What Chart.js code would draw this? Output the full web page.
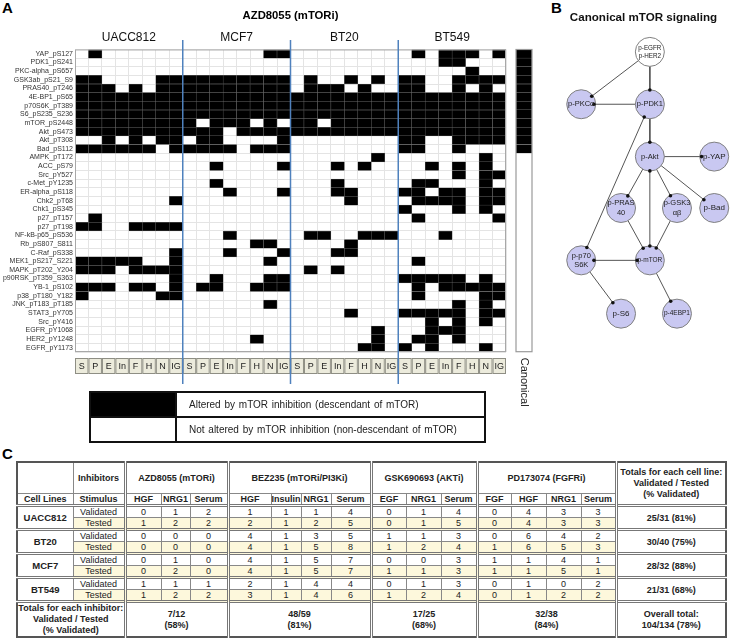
<!DOCTYPE html>
<html>
<head>
<meta charset="utf-8">
<script src="https://cdn.jsdelivr.net/npm/chart.js@4.4.1/dist/chart.umd.min.js"></script>
<style>
body { margin:0; width:745px; height:638px; position:relative; background:#fff; font-family: Arial, "Liberation Sans", sans-serif; overflow:hidden; }
.letter { position:absolute; font-weight:bold; font-size:15px; line-height:15px; color:#000; }
canvas { position:absolute; top:0; }
#legendBox { position:absolute; left:89px; top:391px; width:393px; border:2px solid #111; font-size:10px; color:#222; }
#legendBox .row { display:flex; height:23px; }
#legendBox .row + .row { border-top:2px solid #111; }
#legendBox .sw { width:84px; border-right:2px solid #111; }
#legendBox .txt { padding-left:12px; line-height:23px; word-spacing:1px; }
#tbl { position:absolute; left:16px; top:461px; border-collapse:collapse; table-layout:fixed; font-size:9px; color:#222; border:2px solid #555; }
#tbl td { border:1px solid #888; text-align:center; padding:0; height:10px; line-height:10px; white-space:nowrap; }
#tbl .b { font-weight:bold; }
#tbl td.gl { border-left:3px double #777; }
#tbl tr.gt td { border-top:3px double #777; }
#tbl tr.h1 td { height:30px; }
#tbl tr.tested td { background:#fdf8dc; }
#tbl tr.tot td { height:33px; line-height:11px; }
</style>
</head>
<body>
<div class="letter" style="left:2px;top:0px">A</div>
<div class="letter" style="left:551px;top:0px">B</div>
<div class="letter" style="left:2px;top:446px">C</div>

<canvas id="heat" width="545" height="392" style="left:0"></canvas>
<canvas id="canon" width="30" height="420" style="left:510px"></canvas>
<canvas id="net" width="203" height="352" style="left:542px"></canvas>

<div id="legendBox">
  <div class="row"><div class="sw" style="background:#000"></div><div class="txt">Altered by mTOR inhibition (descendant of mTOR)</div></div>
  <div class="row"><div class="sw" style="background:#fff"></div><div class="txt">Not altered by mTOR inhibition (non-descendant of mTOR)</div></div>
</div>

<table id="tbl"></table>

<script>
// ---------- Panel A : heatmap ----------
const cellLines = ['UACC812', 'MCF7', 'BT20', 'BT549'];
const conditions = ['S', 'P', 'E', 'In', 'F', 'H', 'N', 'IG'];
const rowNames = ['YAP_pS127','PDK1_pS241','PKC-alpha_pS657','GSK3ab_pS21_S9','PRAS40_pT246','4E-BP1_pS65',
  'p70S6K_pT389','S6_pS235_S236','mTOR_pS2448','Akt_pS473','Akt_pT308','Bad_pS112','AMPK_pT172','ACC_pS79',
  'Src_pY527','c-Met_pY1235','ER-alpha_pS118','Chk2_pT68','Chk1_pS345','p27_pT157','p27_pT198',
  'NF-kB-p65_pS536','Rb_pS807_S811','C-Raf_pS338','MEK1_pS217_S221','MAPK_pT202_Y204','p90RSK_pT359_S363',
  'YB-1_pS102','p38_pT180_Y182','JNK_pT183_pT185','STAT3_pY705','Src_pY416','EGFR_pY1068','HER2_pY1248','EGFR_pY1173'];

// 1 = altered by mTOR inhibition, one string per row, one char per condition
const uacc812 = ['01000000','00000000','00000000','11000011','11101011','11111111','11111111','11111111',
  '11111111','11111111','00101011','11111101','00000000','00000000','00000000','00000000','00000000',
  '00000001','00000000','01000000','11001111','00000000','00000000','00000001','11111001','11101111',
  '00000001','11101101','10000011','00000000','00000000','00000000','00000000','00000000','00000000'];
const mcf7 = ['00000011','00000000','00000000','11111111','11111111','11111111','11111111','11111111',
  '10111010','11101111','01100001','11110111','00000000','00100001','00000000','00100000','00010001',
  '00000000','00000000','00000000','00000000','00010000','00000110','00010001','00000010','00000000',
  '00100011','01100111','00000000','00000010','00000000','00000000','00000000','00000100','00000000'];
const bt20 = ['00000000','00000000','00000000','01001010','01110100','11111111','11111111','11111111',
  '11011111','11111111','00000000','00000000','00000010','00010100','00000000','00010000','00011000',
  '00001000','00000000','00000000','00000000','01100111','00001000','00011000','00000000','01010000',
  '00000000','00000000','00000000','00000000','00001000','00000000','00000010','00000010','00000110'];
const bt549 = ['01011101','00011000','00000100','11001111','11001010','11111111','11111111','11111111',
  '11111111','11111111','11001111','11001000','00000010','00101010','00001011','01100010','11011011',
  '01111011','10001010','01000001','00000000','00010000','00000000','00000000','01000000','00000000',
  '11111010','01011111','01000011','00001010','11111011','00101010','00111000','01101000','10100010'];
const canonical = [1,1,1,1,1,1,1,1,1,1,1,1,0,0,0,0,0,0,0,0,0,0,0,0,0,0,0,0,0,0,0,0,0,0,0];

const lineBits = [uacc812, mcf7, bt20, bt549];
const heatSets = cellLines.map((name, g) => ({
  label: name,
  data: lineBits[g].flatMap((bits, r) => [...bits].map((b, k) =>
    b === '1' ? { x: [g * 8 + k, g * 8 + k + 1], y: rowNames[r] } : null).filter(v => v)),
  backgroundColor: '#000',
  borderColor: '#6a6a6a',
  borderWidth: 0.5,
  borderSkipped: false,
  grouped: false,
  barPercentage: 1,
  categoryPercentage: 1
}));

const heatExtras = {
  id: 'heatExtras',
  afterDraw(chart) {
    const { ctx, chartArea: a, scales: { x } } = chart;
    ctx.save();
    ctx.strokeStyle = '#a8a8a8';
    ctx.lineWidth = 1;
    ctx.strokeRect(a.left + 0.5, a.top + 0.5, a.right - a.left - 1, a.bottom - a.top - 1);
    // condition boxes under the columns
    ctx.font = '9px Arial';
    ctx.textAlign = 'center';
    ctx.textBaseline = 'middle';
    for (let c = 0; c < 32; c++) {
      const l = x.getPixelForValue(c), r = x.getPixelForValue(c + 1);
      ctx.fillStyle = '#ecebdc';
      ctx.fillRect(l, 358, r - l, 16);
      ctx.strokeStyle = '#8e8e84';
      ctx.strokeRect(l + 0.5, 358.5, r - l - 1, 15);
      ctx.fillStyle = '#222';
      ctx.fillText(conditions[c % 8], (l + r) / 2, 366.5);
    }
    // blue separators between cell lines
    ctx.strokeStyle = '#4f81bd';
    ctx.lineWidth = 1.5;
    for (let g = 1; g < 4; g++) {
      const px = x.getPixelForValue(g * 8);
      ctx.beginPath();
      ctx.moveTo(px, 40);
      ctx.lineTo(px, 384);
      ctx.stroke();
    }
    ctx.restore();
  }
};

new Chart(document.getElementById('heat'), {
  type: 'bar',
  data: { labels: rowNames, datasets: heatSets },
  options: {
    indexAxis: 'y',
    responsive: false,
    animation: false,
    layout: { padding: { left: 0, right: 39, top: 0, bottom: 0 } },
    plugins: {
      legend: { display: false },
      tooltip: { enabled: false },
      title: {
        display: true, fullSize: false, text: 'AZD8055 (mTORi)', color: '#000',
        font: { family: 'Arial', size: 11.3, weight: 'bold' },
        padding: { top: 9.2, bottom: 0 }
      }
    },
    scales: {
      x: {
        type: 'linear', min: 0, max: 32,
        ticks: { display: false, stepSize: 1 },
        grid: { color: '#e4e4e4', drawTicks: false },
        border: { display: false },
        afterFit: s => { s.height = 40; }
      },
      xTop: {
        type: 'category', labels: cellLines, position: 'top', offset: true,
        ticks: { font: { family: 'Arial', size: 12 }, color: '#111', padding: 4.3 },
        grid: { display: false, drawTicks: false },
        border: { display: false },
        afterFit: s => { s.height = 26.7; }
      },
      y: {
        type: 'category',
        ticks: { font: { family: 'Arial', size: 7 }, color: '#333', padding: 2, autoSkip: false },
        grid: { color: '#e4e4e4', drawTicks: false },
        border: { display: false },
        afterFit: s => { s.width = 75; }
      }
    }
  },
  plugins: [heatExtras]
});

// canonical column
const canonExtras = {
  id: 'canonExtras',
  afterDraw(chart) {
    const { ctx, chartArea: a } = chart;
    ctx.save();
    ctx.strokeStyle = '#9a9a9a';
    ctx.lineWidth = 1.2;
    ctx.strokeRect(a.left, a.top, a.right - a.left, a.bottom - a.top);
    ctx.translate((a.left + a.right) / 2, a.bottom + 6);
    ctx.rotate(Math.PI / 2);
    ctx.font = '11px Arial';
    ctx.fillStyle = '#222';
    ctx.textAlign = 'left';
    ctx.textBaseline = 'middle';
    ctx.fillText('Canonical', 0, 0);
    ctx.restore();
  }
};

new Chart(document.getElementById('canon'), {
  type: 'bar',
  data: {
    labels: rowNames,
    datasets: [{
      label: 'Canonical', data: canonical, backgroundColor: '#000', borderColor: '#777',
      borderWidth: 0.5, borderSkipped: false, barPercentage: 1, categoryPercentage: 1
    }]
  },
  options: {
    indexAxis: 'y',
    responsive: false,
    animation: false,
    layout: { padding: { left: 6, right: 8, top: 49.5, bottom: 68.3 } },
    plugins: { legend: { display: false }, tooltip: { enabled: false } },
    scales: {
      x: { display: false, min: 0, max: 1 },
      y: { display: false }
    }
  },
  plugins: [canonExtras]
});

// ---------- Panel B : canonical mTOR network ----------
const nodeNames = ['p-EGFR\np-HER2', 'p-PKCα', 'p-PDK1', 'p-Akt', 'p-YAP', 'p-PRAS\n40', 'p-GSK3\nαβ',
  'p-Bad', 'p-p70\nS6K', 'p-mTOR', 'p-S6', 'p-4EBP1'];
const nodeX = [109, 28, 109, 109, 185, 75, 141, 185, 28, 109, 75, 141];
const nodeY = [53, 108, 108, 163, 163, 217, 217, 217, 272, 272, 328, 328];
const nodeFont = [6.3, 7.5, 7.5, 7.5, 8, 7.5, 7.5, 8, 7.5, 6.5, 8, 6.5];
const edgeFrom = [0, 0, 2, 2, 8, 3, 3, 3, 3, 9, 5, 6, 9, 8, 9];
const edgeTo   = [1, 2, 1, 3, 2, 4, 5, 6, 7, 3, 9, 9, 8, 10, 11];
const edgeBoth = [0, 0, 0, 0, 1, 0, 0, 0, 0, 1, 0, 0, 1, 0, 0];
const nodeR = 14.5;

const nodePts = nodeX.map((x, i) => ({ x, y: nodeY[i] }));
// point on the rim of node t, in the direction of node s
const rimAt = (t, s) => {
  const dx = nodeX[s] - nodeX[t], dy = nodeY[s] - nodeY[t];
  const d = Math.hypot(dx, dy);
  return { x: nodeX[t] + dx * (nodeR + 0.5) / d, y: nodeY[t] + dy * (nodeR + 0.5) / d };
};
const headPts = edgeFrom.flatMap((f, i) => {
  const out = [rimAt(edgeTo[i], f)];
  if (edgeBoth[i]) out.push(rimAt(f, edgeTo[i]));
  return out;
});
// one small line dataset per edge, rim to rim
const edgeSets = edgeFrom.map((f, i) => ({
  label: 'edge' + i, type: 'line', data: [rimAt(f, edgeTo[i]), rimAt(edgeTo[i], f)],
  borderColor: '#555', borderWidth: 1, pointRadius: 0, fill: false, order: 3
}));

const netLabels = {
  id: 'netLabels',
  afterDatasetsDraw(chart) {
    const { ctx, scales: { x, y } } = chart;
    ctx.save();
    ctx.fillStyle = '#222';
    ctx.textAlign = 'center';
    ctx.textBaseline = 'middle';
    nodeNames.forEach((name, i) => {
      const lines = name.split('\n');
      const fs = nodeFont[i];
      ctx.font = fs + 'px Arial';
      const px = x.getPixelForValue(nodeX[i]), py = y.getPixelForValue(nodeY[i]);
      lines.forEach((t, k) => ctx.fillText(t, px, py + (k - (lines.length - 1) / 2) * fs * 1.25));
    });
    ctx.restore();
  }
};

new Chart(document.getElementById('net'), {
  type: 'scatter',
  data: {
    datasets: [
      { label: 'heads', data: headPts, pointRadius: 1.8, pointBackgroundColor: '#111', pointBorderWidth: 0, order: 1 },
      { label: 'nodes', data: nodePts, pointRadius: nodeR,
        pointBackgroundColor: nodeNames.map((n, i) => i === 0 ? '#ffffff' : '#c9c8f1'),
        pointBorderColor: '#808080', pointBorderWidth: 1, order: 2 },
      ...edgeSets
    ]
  },
  options: {
    responsive: false,
    animation: false,
    clip: false,
    layout: { padding: 0 },
    plugins: {
      legend: { display: false },
      tooltip: { enabled: false },
      title: {
        display: true, text: 'Canonical mTOR signaling', color: '#111',
        font: { family: 'Arial', size: 11.6, weight: 'bold' },
        padding: { top: 11, bottom: 5.08 }
      }
    },
    scales: {
      x: { type: 'linear', display: false, min: 0, max: 203 },
      y: { type: 'linear', display: false, min: 30, max: 352, reverse: true }
    }
  },
  plugins: [netLabels]
});

// ---------- Panel C : validation table ----------
const inhibitors = ['AZD8055 (mTORi)', 'BEZ235 (mTORi/PI3Ki)', 'GSK690693 (AKTi)', 'PD173074 (FGFRi)'];
const stimuli = [['HGF', 'NRG1', 'Serum'], ['HGF', 'Insulin', 'NRG1', 'Serum'], ['EGF', 'NRG1', 'Serum'], ['FGF', 'HGF', 'NRG1', 'Serum']];
const tableLines = ['UACC812', 'BT20', 'MCF7', 'BT549'];
const validatedUACC812 = [0, 1, 2, 1, 1, 1, 4, 0, 1, 4, 0, 4, 3, 3];
const testedUACC812    = [1, 2, 2, 2, 1, 2, 5, 0, 1, 5, 0, 4, 3, 3];
const validatedBT20    = [0, 0, 0, 4, 1, 3, 5, 1, 1, 3, 0, 6, 4, 2];
const testedBT20       = [0, 0, 0, 4, 1, 5, 8, 1, 2, 4, 1, 6, 5, 3];
const validatedMCF7    = [0, 1, 0, 4, 1, 5, 7, 0, 0, 3, 1, 1, 4, 1];
const testedMCF7       = [0, 2, 0, 4, 1, 5, 7, 1, 1, 3, 1, 1, 5, 1];
const validatedBT549   = [1, 1, 1, 2, 1, 4, 4, 0, 1, 3, 0, 1, 0, 2];
const testedBT549      = [1, 2, 2, 3, 1, 4, 6, 1, 2, 4, 0, 1, 2, 2];
const lineTotals = ['25/31 (81%)', '30/40 (75%)', '28/32 (88%)', '21/31 (68%)'];
const inhibitorTotals = [['7/12', '(58%)'], ['48/59', '(81%)'], ['17/25', '(68%)'], ['32/38', '(84%)']];
const overallTotal = '104/134 (78%)';
const colWidths = [56, 52, 36, 29, 38, 43, 30, 30, 40, 35, 35, 36, 34, 35, 35, 35, 110];

const validated = [validatedUACC812, validatedBT20, validatedMCF7, validatedBT549];
const tested = [testedUACC812, testedBT20, testedMCF7, testedBT549];

function valueCells(vals) {
  let k = 0;
  return stimuli.map(g => g.map((s, j) => `<td${j === 0 ? ' class="gl"' : ''}>${vals[k++]}</td>`).join('')).join('');
}

let html = '<colgroup>' + colWidths.map(w => `<col style="width:${w}px">`).join('') + '</colgroup>';
html += '<tr class="h1"><td></td><td class="b">Inhibitors</td>' +
  inhibitors.map((n, i) => `<td class="b gl" colspan="${stimuli[i].length}">${n}</td>`).join('') +
  '<td class="b gl" rowspan="2" style="line-height:11px">Totals for each cell line:<br>Validated / Tested<br>(% Validated)</td></tr>';
html += '<tr><td class="b">Cell Lines</td><td class="b">Stimulus</td>' +
  stimuli.map(g => g.map((s, j) => `<td class="b${j === 0 ? ' gl' : ''}">${s}</td>`).join('')).join('') + '</tr>';
tableLines.forEach((name, i) => {
  html += `<tr class="gt"><td class="b" rowspan="2" style="font-size:9.5px">${name}</td><td>Validated</td>${valueCells(validated[i])}` +
    `<td class="b gl" rowspan="2">${lineTotals[i]}</td></tr>`;
  html += `<tr class="tested"><td>Tested</td>${valueCells(tested[i])}</tr>`;
});
html += '<tr class="gt tot"><td class="b" colspan="2">Totals for each inhibitor:<br>Validated / Tested<br>(% Validated)</td>' +
  inhibitorTotals.map((t, i) => `<td class="b gl" colspan="${stimuli[i].length}">${t[0]}<br>${t[1]}</td>`).join('') +
  `<td class="b gl">Overall total:<br>${overallTotal}</td></tr>`;
document.getElementById('tbl').innerHTML = html;
</script>
</body>
</html>
